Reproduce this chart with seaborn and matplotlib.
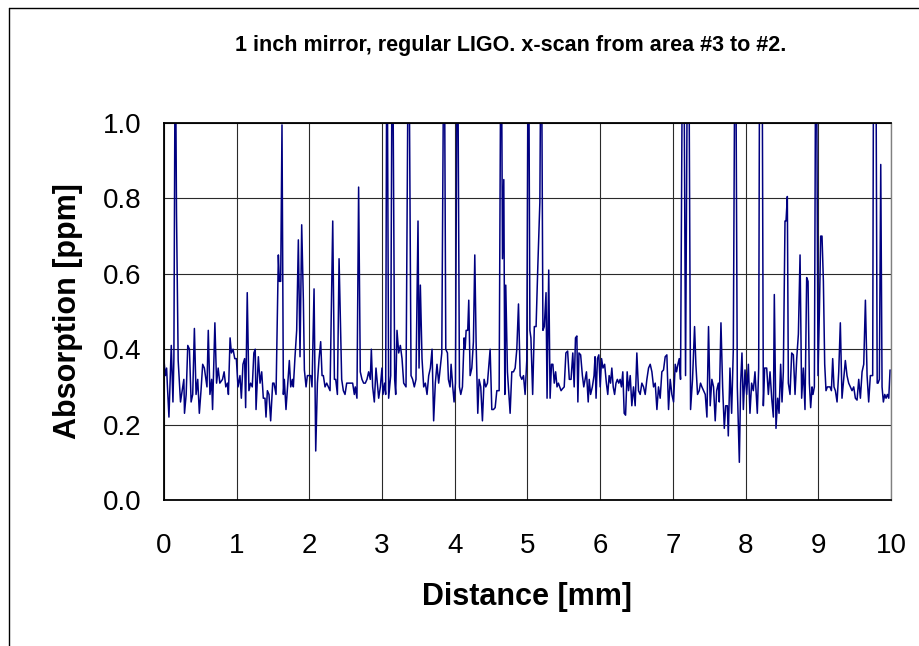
import numpy as np
import pandas as pd
import matplotlib
matplotlib.use('Agg')
import matplotlib.pyplot as plt
import seaborn as sns
from matplotlib.lines import Line2D
from matplotlib.ticker import FormatStrFormatter

# scan readings, split into pieces of about 1.25 mm
x1 = [0.000, 0.018, 0.036, 0.045, 0.068, 0.082, 0.100, 0.123, 0.136, 0.155, 0.172, 0.195, 0.227, 0.273,
      0.282, 0.305, 0.327, 0.350, 0.373, 0.395, 0.418, 0.441, 0.464, 0.486, 0.509, 0.532, 0.555, 0.591,
      0.609, 0.632, 0.655, 0.668, 0.700, 0.723, 0.745, 0.768, 0.805, 0.827, 0.850, 0.873, 0.886, 0.909,
      0.927, 0.950, 0.973, 0.995, 1.018, 1.045, 1.064, 1.086, 1.109, 1.123, 1.145, 1.168, 1.191, 1.214,
      1.236, 1.255]
y1 = [.37, .33, .35, .31, .22, .30, .41, .26, .375, 1.30, .76, .37, .26, .32,
      .23, .28, .41, .40, .26, .28, .455, .28, .32, .23, .29, .36, .35, .30,
      .45, .28, .32, .24, .47, .31, .35, .31, .32, .34, .30, .31, .28, .43,
      .39, .40, .375, .375, .30, .33, .27, .36, .375, .245, .55, .29, .31, .30,
      .39, .40]

x2 = [1.266, 1.298, 1.321, 1.344, 1.366, 1.389, 1.403, 1.422, 1.444, 1.467, 1.495, 1.513, 1.541, 1.573,
      1.587, 1.605, 1.623, 1.642, 1.655, 1.678, 1.706, 1.724, 1.743, 1.766, 1.779, 1.802, 1.825, 1.848,
      1.871, 1.894, 1.917, 1.931, 1.954, 1.972, 1.995, 2.018, 2.036, 2.064, 2.087, 2.110, 2.133, 2.155,
      2.174, 2.192, 2.215, 2.238, 2.261, 2.284, 2.321, 2.344, 2.362, 2.385, 2.408, 2.431, 2.444, 2.467,
      2.490, 2.513]
y2 = [.24, .38, .31, .34, .27, .27, .22, .29, .28, .21, .31, .31, .28, .65,
      .58, .58, .995, .28, .32, .24, .32, .37, .30, .32, .30, .38, .45, .69,
      .38, .73, .53, .345, .30, .33, .33, .33, .30, .56, .13, .31, .375, .42,
      .33, .33, .30, .31, .30, .29, .74, .32, .32, .28, .64, .44, .32, .29,
      .28, .31]

x3 = [2.540, 2.563, 2.595, 2.618, 2.631, 2.654, 2.677, 2.700, 2.723, 2.746, 2.769, 2.792, 2.815, 2.838,
      2.852, 2.870, 2.893, 2.916, 2.934, 2.953, 2.976, 2.998, 3.012, 3.035, 3.049, 3.067, 3.090, 3.118,
      3.141, 3.173, 3.187, 3.205, 3.228, 3.251, 3.274, 3.297, 3.329, 3.365, 3.398, 3.420, 3.443, 3.466,
      3.494, 3.508, 3.526, 3.549, 3.572, 3.595, 3.618, 3.641, 3.664, 3.687, 3.709, 3.732, 3.755, 3.778]
y3 = [.31, .31, .31, .28, .30, .27, .83, .34, .32, .31, .31, .32, .34, .32,
      .40, .30, .26, .35, .31, .27, .30, .35, .28, .31, .28, 1.40, .27, .33,
      1.40, .32, .28, .45, .39, .41, .375, .31, .30, 1.40, .33, .32, .30, .32,
      .74, .35, .57, .375, .30, .31, .28, .33, .35, .40, .21, .31, .36, .31]

x4 = [3.821, 3.853, 3.876, 3.899, 3.912, 3.935, 3.949, 3.972, 3.990, 4.009, 4.036, 4.064, 4.082, 4.105,
      4.128, 4.142, 4.156, 4.178, 4.192, 4.211, 4.234, 4.256, 4.275, 4.293, 4.316, 4.334, 4.357, 4.380,
      4.403, 4.426, 4.449, 4.486, 4.509, 4.532, 4.555, 4.578, 4.610, 4.637, 4.656, 4.674, 4.688, 4.701,
      4.724, 4.761, 4.784, 4.807, 4.830, 4.853, 4.876, 4.899, 4.922, 4.945, 4.967, 4.990, 5.013]
y4 = [.39, 1.40, .40, .39, .32, .30, .36, .30, .26, .31, 1.40, .30, .28, .30,
      .43, .40, .45, .45, .53, .33, .35, .42, .65, .42, .23, .32, .30, .21,
      .32, .30, .31, .40, .24, .24, .245, .29, .29, 1.40, .64, .85, .28, .57,
      .34, .23, .34, .34, .35, .40, .52, .33, .32, .33, .28, .37, 1.40]

x5 = [5.033, 5.047, 5.071, 5.094, 5.118, 5.142, 5.170, 5.189, 5.212, 5.231, 5.255, 5.269, 5.292, 5.311,
      5.330, 5.349, 5.368, 5.387, 5.406, 5.425, 5.443, 5.462, 5.481, 5.505, 5.528, 5.552, 5.575, 5.599,
      5.623, 5.642, 5.660, 5.679, 5.693, 5.708, 5.731, 5.755, 5.774, 5.792, 5.811, 5.835, 5.849, 5.868,
      5.892, 5.915, 5.929, 5.943, 5.962, 5.981, 6.000, 6.019, 6.038, 6.061, 6.085, 6.104, 6.123, 6.142,
      6.160, 6.179, 6.198, 6.217, 6.236, 6.255, 6.274, 6.292, 6.311, 6.330, 6.349]
y5 = [.45, .43, .28, .46, .46, .62, .79, 1.40, .45, .46, .55, .27, .61, .27,
      .36, .36, .31, .34, .30, .31, .30, .29, .295, .30, .39, .395, .32, .32,
      .39, .30, .43, .435, .26, .39, .385, .33, .30, .32, .34, .26, .32, .28,
      .30, .33, .38, .27, .375, .385, .30, .375, .35, .36, .31, .28, .33, .31,
      .35, .30, .28, .31, .32, .31, .32, .30, .34, .23, .225]

x6 = [6.371, 6.390, 6.413, 6.435, 6.458, 6.481, 6.504, 6.527, 6.550, 6.573, 6.596, 6.619, 6.642, 6.665,
      6.688, 6.711, 6.734, 6.757, 6.780, 6.802, 6.825, 6.848, 6.871, 6.894, 6.917, 6.940, 6.963, 6.986,
      7.009, 7.032, 7.050, 7.069, 7.087, 7.105, 7.142, 7.174, 7.211, 7.243, 7.270, 7.298, 7.316, 7.339,
      7.362, 7.380, 7.399, 7.422, 7.445, 7.468, 7.490, 7.513, 7.536, 7.559, 7.582, 7.602]
y6 = [.34, .29, .33, .25, .30, .25, .39, .29, .28, .31, .30, .28, .32, .35,
      .36, .34, .30, .31, .24, .30, .27, .34, .345, .38, .385, .24, .32, .28,
      .26, .36, .34, .36, .375, .32, 1.60, .33, 1.60, .24, .32, .46, .36, .28,
      .29, .31, .30, .29, .28, .22, .46, .25, .32, .30, .21, .29]

x7 = [7.625, 7.638, 7.661, 7.684, 7.707, 7.726, 7.749, 7.762, 7.785, 7.808, 7.831, 7.859, 7.886, 7.914,
      7.932, 7.950, 7.969, 7.992, 8.015, 8.038, 8.060, 8.083, 8.106, 8.129, 8.161, 8.180, 8.198, 8.221,
      8.244, 8.262, 8.290, 8.313, 8.336, 8.359, 8.382, 8.395, 8.418, 8.441, 8.460, 8.482, 8.501, 8.519,
      8.542, 8.556, 8.574, 8.588, 8.611, 8.634, 8.657, 8.680, 8.703, 8.726, 8.749, 8.771, 8.794, 8.817,
      8.840, 8.859]
y7 = [.31, .26, .47, .30, .19, .25, .25, .17, .35, .23, .40, 1.50, .30, .10,
      .31, .39, .24, .345, .28, .36, .23, .31, .29, .34, .23, .35, 1.60, 1.60,
      .25, .35, .35, .28, .34, .27, .22, .545, .19, .27, .23, .36, .26, .34,
      .74, .74, .805, .31, .28, .39, .385, .28, .375, .44, .65, .27, .35, .24,
      .59, .58]

x8 = [8.877, 8.895, 8.914, 8.927, 8.946, 8.969, 8.996, 9.015, 9.033, 9.051, 9.070, 9.088, 9.106, 9.125,
      9.143, 9.161, 9.180, 9.198, 9.216, 9.235, 9.258, 9.281, 9.303, 9.326, 9.349, 9.372, 9.395, 9.418,
      9.441, 9.464, 9.487, 9.510, 9.533, 9.556, 9.579, 9.602, 9.625, 9.648, 9.671, 9.693, 9.716, 9.748,
      9.765, 9.785, 9.810, 9.822, 9.840, 9.859, 9.877, 9.895, 9.914, 9.932, 9.950, 9.969, 9.987]
y8 = [.31, .245, .30, .28, .30, 1.50, .33, .50, .70, .70, .58, .36, .29, .30,
      .30, .30, .29, .375, .30, .29, .26, .34, .47, .27, .32, .37, .33, .31,
      .30, .29, .30, .27, .265, .32, .27, .34, .36, .53, .33, .26, .33, .33,
      1.60, 1.60, .31, .31, .32, .89, .30, .26, .28, .27, .28, .27, .345]

title = '1 inch mirror, regular LIGO. x-scan from area #3 to #2.'

df = pd.DataFrame({
    'Distance [mm]': np.concatenate([x1, x2, x3, x4, x5, x6, x7, x8]),
    'Absorption [ppm]': np.concatenate([y1, y2, y3, y4, y5, y6, y7, y8]),
})

sns.set_theme(style='white')
plt.rcParams['font.family'] = ['Liberation Sans', 'DejaVu Sans']
plt.rcParams['text.color'] = 'black'
plt.rcParams['axes.labelcolor'] = 'black'
plt.rcParams['xtick.color'] = 'black'
plt.rcParams['ytick.color'] = 'black'

fig = plt.figure(figsize=(9.2, 6.46), dpi=100)
ax = fig.add_axes([164 / 920, 1 - 500 / 646, 727 / 920, 377 / 646])

sns.lineplot(data=df, x='Distance [mm]', y='Absorption [ppm]', ax=ax,
             color='#000080', linewidth=1.1, sort=False, estimator=None)

ax.set_xlim(0, 10)
ax.set_ylim(0, 1)
ax.set_xticks(range(0, 11))
ax.set_yticks([0, 0.2, 0.4, 0.6, 0.8, 1.0])
ax.yaxis.set_major_formatter(FormatStrFormatter('%.1f'))
ax.grid(True, color='#2a2a2a', linewidth=0.8)
ax.set_axisbelow(True)

ax.tick_params(axis='x', direction='in', length=5, width=1, color='black', labelcolor='black',
               labelsize=20, pad=24)
ax.tick_params(axis='y', direction='in', length=5, width=1, color='black', labelcolor='black',
               labelsize=20, pad=16)

for s in ['left', 'bottom', 'top']:
    ax.spines[s].set_color('black')
    ax.spines[s].set_linewidth(1.3)
ax.spines['right'].set_color('#808080')
ax.spines['right'].set_linewidth(1.0)

ax.set_xlabel('Distance [mm]', fontsize=22, fontweight='bold', color='black')
ax.set_ylabel('Absorption [ppm]', fontsize=22, fontweight='bold', color='black')
ax.xaxis.label.set_verticalalignment('center')
ax.yaxis.label.set_verticalalignment('center')
ax.xaxis.set_label_coords(0.5, (500 - 597) / 377)
ax.yaxis.set_label_coords((68 - 164) / 727, 0.5)

fig.text(511 / 920, 1 - 45 / 646, title, ha='center', va='center', fontsize=15.5,
         fontweight='bold', color='black')

# chart frame (left and top edges)
fig.add_artist(Line2D([9 / 920, 9 / 920], [0, 1 - 8 / 646], transform=fig.transFigure, color='black', lw=1))
fig.add_artist(Line2D([9 / 920, 1], [1 - 8 / 646, 1 - 8 / 646], transform=fig.transFigure, color='black', lw=1))

fig.savefig('out.png', dpi=100)
